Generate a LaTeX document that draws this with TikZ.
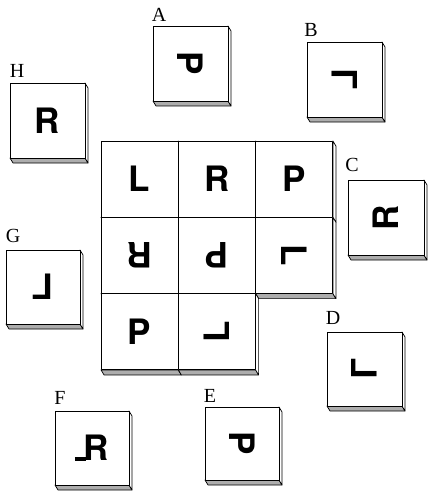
\documentclass[tikz,border=0pt]{standalone}
\usepackage{fontspec}
\setmainfont{Liberation Serif}
\setsansfont{TeX Gyre Heros}
\usepackage{graphicx}
\tikzset{
  frontface/.style={draw=black, fill=white, line width=0.9pt, line join=round},
  sideface/.style={draw=black, fill=white, line width=0.7pt, line join=round},
  bottomface/.style={draw=black, fill=black!32, line width=0.7pt, line join=round},
  glyph/.style={font=\sffamily\bfseries\fontsize{35}{35}\selectfont, inner sep=0pt},
  lab/.style={font=\fontsize{20}{20}\selectfont, inner sep=0pt},
}
% name, x, y, width, height, content
\newcommand\mytile[6]{%
  \begin{scope}[shift={(#2,#3)}]
    \draw[bottomface] (0,#5) -- (#4,#5) -- (#4+3,#5+5) -- (3,#5+5) -- cycle;
    \draw[sideface] (#4,0) -- (#4+3,5) -- (#4+3,#5+5) -- (#4,#5) -- cycle;
    \draw[frontface] (0,0) rectangle (#4,#5);
    \node[glyph] (#1) at (#4/2,#5/2) {#6};
  \end{scope}}
\begin{document}
\begin{tikzpicture}[x=1pt,y=-1pt]
\useasboundingbox (0,0) rectangle (429,492);
% grid of tiles
\mytile{g11}{101}{141}{77.3}{76.3}{L}
\mytile{g12}{178.3}{141}{77.3}{76.3}{R}
\mytile{g13}{255.6}{141}{77.3}{76.3}{P}
\mytile{g21}{101}{217.3}{77.3}{76.3}{\rotatebox{180}{R}}
\mytile{g22}{178.3}{217.3}{77.3}{76.3}{\rotatebox{180}{P}}
\mytile{g23}{255.6}{217.3}{77.3}{76.3}{\rotatebox{-90}{L}}
\mytile{g31}{101}{293.6}{77.3}{76.3}{P}
\mytile{g32}{178.3}{293.6}{77.3}{76.3}{\rotatebox{90}{L}}
% loose tiles
\mytile{tA}{153}{26}{75}{75}{\rotatebox{-90}{P}}
\mytile{tB}{307}{42}{75}{75}{\rotatebox{90}{\reflectbox{L}}}
\mytile{tH}{10}{83}{75}{75}{R}
\mytile{tC}{348}{180}{76}{75}{\rotatebox{90}{R}}
\mytile{tG}{6}{250}{74}{74}{\reflectbox{L}}
\mytile{tD}{327}{332}{75}{74}{\rotatebox{-90}{\reflectbox{L}}}
\mytile{tF}{55}{411}{74}{74}{\rule{11pt}{4pt}\kern-2pt R}
\mytile{tE}{205}{407}{74}{73}{\rotatebox{-90}{P}}
% labels
\node[lab] (lA) at (159,14.5) {A};
\node[lab] (lB) at (311,29.5) {B};
\node[lab] (lC) at (352,165) {C};
\node[lab] (lD) at (333,318) {D};
\node[lab] (lE) at (210,396) {E};
\node[lab] (lF) at (60,398) {F};
\node[lab] (lG) at (13,236) {G};
\node[lab] (lH) at (17,71) {H};
\end{tikzpicture}
\end{document}
